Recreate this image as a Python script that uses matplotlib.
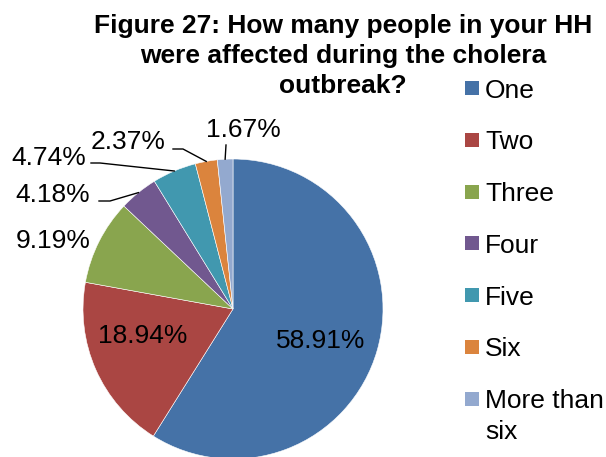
import numpy as np
import matplotlib
matplotlib.use('Agg')
import matplotlib.pyplot as plt
from matplotlib.patches import Rectangle

plt.rcParams['font.family'] = ['Liberation Sans', 'DejaVu Sans']

# ── data ──────────────────────────────────────
categories = ['One', 'Two', 'Three', 'Four', 'Five', 'Six', 'More than\nsix']
shares = [58.91, 18.94, 9.19, 4.18, 4.74, 2.37, 1.67]
colors = ['#4572A7', '#AA4643', '#89A54E', '#71588F', '#4198AF', '#DB843D', '#93A9CF']
title_lines = ['Figure 27: How many people in your HH',
               'were affected during the cholera',
               'outbreak?']

# ── layout (pixels, origin top-left) ──────────
W, H = 606, 457
CX, CY, R = 233, 309, 150

# label anchor (x centre, baseline y) and leader start points, per slice
label_pos = [(321, 348), (143, 343), (53, 248), (53, 202), (49, 165), (128, 149), (243, 137)]
leader_pts = [None, None, None,
              [(99, 201), (110, 201)],
              [(91, 163), (100, 163)],
              [(173, 149), (183, 149)],
              [(226, 145)]]


def to_data(px, py):
    return (px - CX) / R, (CY - py) / R


fig = plt.figure(figsize=(W / 100, H / 100), dpi=100)
fig.patch.set_facecolor('white')
ax = fig.add_axes([(CX - R) / W, (H - CY - R) / H, 2 * R / W, 2 * R / H])

wedges, _ = ax.pie(shares, colors=colors, startangle=90, counterclock=False,
                   radius=1.0, center=(0, 0),
                   wedgeprops=dict(edgecolor='white', linewidth=0.4))
ax.set_xlim(-1, 1)
ax.set_ylim(-1, 1)
ax.set_aspect('auto')
ax.axis('off')

for i, (w, val) in enumerate(zip(wedges, shares)):
    tx, ty = to_data(*label_pos[i])
    ax.text(tx, ty, f'{val:.2f}%', ha='center', va='baseline', fontsize=19,
            color='black', clip_on=False)
    if leader_pts[i] is not None:
        mid = np.deg2rad((w.theta1 + w.theta2) / 2)
        pts = [to_data(*p) for p in leader_pts[i]]
        pts.append((np.cos(mid), np.sin(mid)))
        xs, ys = zip(*pts)
        ax.plot(xs, ys, color='black', lw=1.0, clip_on=False)

# title, one text per line
for k, line in enumerate(title_lines):
    fig.text(343 / W, 1 - (33 + 30 * k) / H, line, ha='center', va='baseline',
             fontsize=19, fontweight='bold')

# legend
for i, (lab, col) in enumerate(zip(categories, colors)):
    base = 97.5 + 51.8 * i
    fig.patches.append(Rectangle((465 / W, 1 - (base - 2.5) / H), 14 / W, 14 / H,
                                 transform=fig.transFigure, facecolor=col,
                                 edgecolor='none'))
    first, *rest = lab.split('\n')
    fig.text(485 / W, 1 - base / H, first, ha='left', va='baseline', fontsize=19)
    for j, extra in enumerate(rest):
        fig.text(485 / W, 1 - (base + 31 * (j + 1)) / H, extra, ha='left',
                 va='baseline', fontsize=19)

fig.savefig('out.png', dpi=100)
